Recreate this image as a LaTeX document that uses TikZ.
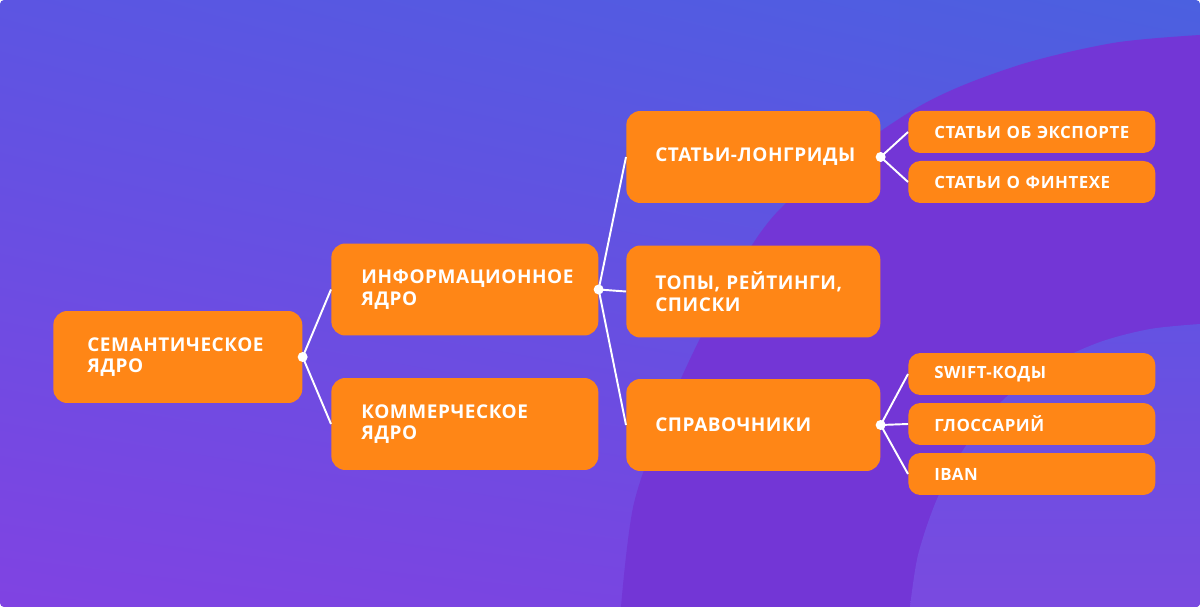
\documentclass[tikz,border=0pt]{standalone}
\usepackage{fontspec}
\setmainfont{Open Sans}[LetterSpace=3]
\usepackage{xcolor}
\usetikzlibrary{shadings}
\definecolor{or1}{HTML}{FF8616}
\definecolor{bg1}{HTML}{5C55E2}
\definecolor{bg2}{HTML}{4B60E0}
\definecolor{bg3}{HTML}{8043E2}
\definecolor{bg4}{HTML}{7247E0}
\definecolor{p1}{HTML}{7336D6}
\definecolor{p2}{HTML}{6452E2}
\definecolor{p3}{HTML}{7A4AE0}

\begin{document}
\begin{tikzpicture}[x=0.02cm,y=-0.02cm,
  box/.style={fill=or1,text=white,rounded corners=0.28cm,anchor=west,align=left,
    minimum height=1.84cm,font=\fontsize{10.8}{12.2}\selectfont\bfseries},
  semb/.style={box,inner xsep=0.68cm,text width=3.62cm},
  coreb/.style={box,inner xsep=0.6cm,text width=4.14cm},
  topicb/.style={box,inner xsep=0.58cm,text width=3.92cm},
  subb/.style={box,minimum height=0.84cm,rounded corners=0.24cm,inner xsep=0.52cm,
    text width=3.9cm,font=\fontsize{9.6}{10}\selectfont\bfseries},
  link/.style={white,line width=1.1pt}]
  \useasboundingbox (0,0) rectangle (1200,607);

  % background
  \shade[upper left=bg1,upper right=bg2,lower left=bg3,lower right=bg4,rounded corners=0.08cm]
    (0,0) rectangle (1200,607);
  \begin{scope}
    \clip[rounded corners=0.08cm] (0,0) rectangle (1200,607);
    \fill[p1] plot[smooth] coordinates {(621,607) (634,503) (669,406) (715,310) (780,209)
      (913,110) (1013,67) (1113,43) (1200,35)} -- (1200,607) -- cycle;
    \shade[top color=p2,bottom color=p3] plot[smooth] coordinates {(910,607) (918,555)
      (937,499) (965,447) (1003,400) (1050,365) (1100,342) (1150,329) (1200,324)}
      -- (1200,607) -- cycle;
  \end{scope}

  % boxes
  \node[semb] (sem) at (53,357) {СЕМАНТИЧЕСКОЕ\\ЯДРО};
  \node[coreb] (info) at (331,289.5) {ИНФОРМАЦИОННОЕ\\ЯДРО};
  \node[coreb] (komm) at (331,424) {КОММЕРЧЕСКОЕ\\ЯДРО};
  \node[topicb] (long) at (626,157) {\mbox{СТАТЬИ-ЛОНГРИДЫ}};
  \node[topicb] (tops) at (626,291.5) {ТОПЫ, РЕЙТИНГИ,\\СПИСКИ};
  \node[topicb] (sprav) at (626,425) {СПРАВОЧНИКИ};
  \node[subb] (exp) at (908,132) {СТАТЬИ ОБ ЭКСПОРТЕ};
  \node[subb] (fin) at (908,182) {СТАТЬИ О ФИНТЕХЕ};
  \node[subb] (swift) at (908,374) {\mbox{SWIFT-КОДЫ}};
  \node[subb] (gloss) at (908,424) {ГЛОССАРИЙ};
  \node[subb] (iban) at (908,474) {IBAN};

  % links
  \draw[link] (sem.east) -- (info.west);
  \draw[link] (sem.east) -- (komm.west);
  \draw[link] (info.east) -- (long.west);
  \draw[link] (info.east) -- (tops.west);
  \draw[link] (info.east) -- (sprav.west);
  \draw[link] (long.east) -- (exp.west);
  \draw[link] (long.east) -- (fin.west);
  \draw[link] (sprav.east) -- (swift.west);
  \draw[link] (sprav.east) -- (gloss.west);
  \draw[link] (sprav.east) -- (iban.west);
  \fill[white] (sem.east) circle (0.1cm);
  \fill[white] (info.east) circle (0.1cm);
  \fill[white] (long.east) circle (0.1cm);
  \fill[white] (sprav.east) circle (0.1cm);
\end{tikzpicture}
\end{document}
